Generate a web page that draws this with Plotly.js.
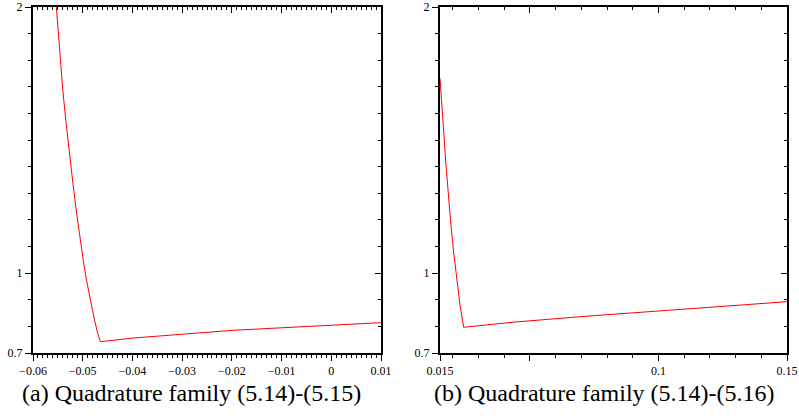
<!DOCTYPE html>
<html>
<head>
<meta charset="utf-8">
<script src="https://cdn.plot.ly/plotly-3.0.1.min.js"></script>
<style>html,body{margin:0;padding:0;background:#fff;}#chart{width:799px;height:416px;}</style>
</head>
<body>
<div id="chart"></div>
<script>
// Panel (a): Quadrature family (5.14)-(5.15)
const xA = [-0.0553, -0.05457, -0.05401, -0.0534, -0.05276, -0.05205, -0.05131, -0.05051, -0.0499, -0.04924, -0.0485, -0.04763, -0.04705, -0.04646, -0.04, -0.02, 0.01];
const yA = [2.0, 1.801, 1.688, 1.575, 1.463, 1.350, 1.237, 1.125, 1.050, 0.974, 0.899, 0.824, 0.779, 0.7425, 0.756, 0.785, 0.814];
// Panel (b): Quadrature family (5.14)-(5.16)
const xB = [0.015, 0.0157, 0.0164, 0.01718, 0.01807, 0.01908, 0.02021, 0.02154, 0.02278, 0.02422, 0.04301, 0.07, 0.1, 0.15];
const yB = [1.732, 1.651, 1.538, 1.425, 1.312, 1.200, 1.087, 0.974, 0.880, 0.7966, 0.8154, 0.8368, 0.8586, 0.8928];

const xTicksA = [-0.06, -0.05, -0.04, -0.03, -0.02, -0.01, 0, 0.01];
const xTickTextA = ['\u22120.06', '\u22120.05', '\u22120.04', '\u22120.03', '\u22120.02', '\u22120.01', '0', '0.01'];
const xTicksB = [0.015, 0.05, 0.1, 0.15];
const xTickTextB = ['0.015', '', '0.1', '0.15'];
const yTicks = [0.7, 1, 2];
const yTickText = ['0.7', '1', '2'];
const captions = ['(a) Quadrature family (5.14)-(5.15)', '(b) Quadrature family (5.14)-(5.16)'];

const rangeXA = [-0.06, 0.01];
const rangeXB = [0.015, 0.15];
const rangeY = [0.7, 2];

const red = '#ff0000';
const fam = 'Liberation Serif';

const traces = [
  {x: xA, y: yA, xaxis: 'x', yaxis: 'y', mode: 'lines', line: {color: red, width: 1}, hoverinfo: 'skip', showlegend: false},
  {x: xB, y: yB, xaxis: 'x2', yaxis: 'y2', mode: 'lines', line: {color: red, width: 1}, hoverinfo: 'skip', showlegend: false},
  {x: xA, y: yA, xaxis: 'x3', yaxis: 'y3', mode: 'lines', line: {color: 'rgba(0,0,0,0)', width: 0}, hoverinfo: 'skip', showlegend: false},
  {x: xB, y: yB, xaxis: 'x4', yaxis: 'y4', mode: 'lines', line: {color: 'rgba(0,0,0,0)', width: 0}, hoverinfo: 'skip', showlegend: false}
];

const domA = [33/799, 381/799];
const domB = [440/799, 787/799];
const domY = [63/416, 409/416];

function ax(range, dom, tv, tt, anchor, minorTick0, minorDt, opts) {
  return Object.assign({
    range: range, domain: dom, anchor: anchor, fixedrange: true,
    showgrid: false, zeroline: false, showline: true, linewidth: 2, linecolor: '#000',
    tickmode: 'array', tickvals: tv, ticktext: tt, ticks: 'outside', ticklen: 6, tickwidth: 1, tickcolor: '#000',
    tickfont: {family: fam, size: 12, color: '#000'},
    minor: {tick0: minorTick0, dtick: minorDt, ticklen: 3, tickwidth: 1, tickcolor: '#000', ticks: 'outside', showgrid: false}
  }, opts || {});
}

const layout = {
  width: 799, height: 416,
  margin: {l: 0, r: 0, t: 0, b: 0},
  paper_bgcolor: '#fff', plot_bgcolor: '#fff',
  showlegend: false,
  font: {family: fam},
  xaxis: ax(rangeXA, domA, xTicksA, xTickTextA, 'y', 0, 0.001),
  yaxis: ax(rangeY, domY, yTicks, yTickText, 'x', 0, 0.1),
  xaxis2: ax(rangeXB, domB, xTicksB, xTickTextB, 'y2', 0, 0.01),
  yaxis2: ax(rangeY, domY, yTicks, yTickText, 'x2', 0, 0.1),
  xaxis3: ax(rangeXA, domA, xTicksA, [], 'y3', 0, 0.001, {overlaying: 'x', side: 'top', ticks: 'inside', showticklabels: false}),
  yaxis3: ax(rangeY, domY, yTicks, [], 'x3', 0, 0.1, {overlaying: 'y', side: 'right', ticks: 'inside', showticklabels: false}),
  xaxis4: ax(rangeXB, domB, xTicksB, [], 'y4', 0, 0.01, {overlaying: 'x2', side: 'top', ticks: 'inside', showticklabels: false}),
  yaxis4: ax(rangeY, domY, yTicks, [], 'x4', 0, 0.1, {overlaying: 'y2', side: 'right', ticks: 'inside', showticklabels: false}),
  annotations: [
    {text: captions[0], xref: 'paper', yref: 'paper', x: 191/799, y: 23/416, xanchor: 'center', yanchor: 'middle', showarrow: false,
     font: {family: fam, size: 24, color: '#000'}},
    {text: captions[1], xref: 'paper', yref: 'paper', x: 604/799, y: 23/416, xanchor: 'center', yanchor: 'middle', showarrow: false,
     font: {family: fam, size: 24, color: '#000'}}
  ]
};

['xaxis3','yaxis3','xaxis4','yaxis4'].forEach(k => { layout[k].minor.ticks = 'inside'; });

Plotly.newPlot('chart', traces, layout, {displayModeBar: false, staticPlot: true});
</script>
</body>
</html>
